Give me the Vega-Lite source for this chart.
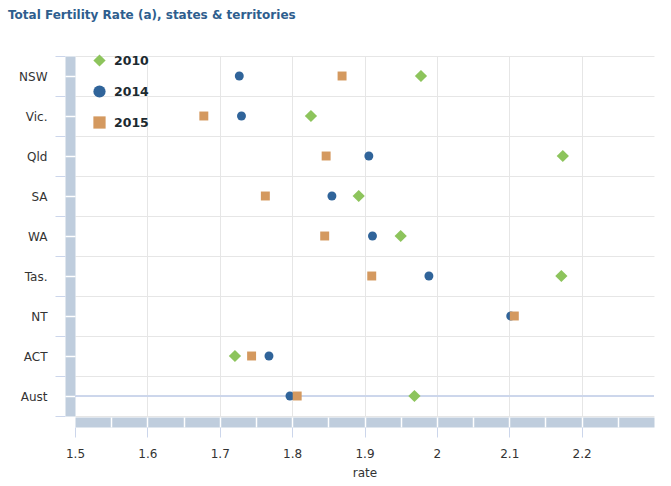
{
  "$schema": "https://vega.github.io/schema/vega-lite/v6.json",
  "width": 579,
  "height": 360,
  "autosize": {"type": "none"},
  "padding": {"left": 75, "top": 56, "right": 17, "bottom": 70},
  "title": {"text": "Total Fertility Rate (a), states & territories", "anchor": "start", "frame": "group", "dx": -67, "offset": 28, "font": "DejaVu Sans", "fontSize": 12, "fontWeight": "bold", "color": "#2e5e8e"},
  "config": {"view": {"stroke": null}, "font": "DejaVu Sans"},
  "data": {"values": [
    {"state": "NSW", "year": "2010", "rate": 1.978},
    {"state": "Vic.", "year": "2010", "rate": 1.826},
    {"state": "Qld", "year": "2010", "rate": 2.174},
    {"state": "SA", "year": "2010", "rate": 1.892},
    {"state": "WA", "year": "2010", "rate": 1.950},
    {"state": "Tas.", "year": "2010", "rate": 2.172},
    {"state": "ACT", "year": "2010", "rate": 1.721},
    {"state": "Aust", "year": "2010", "rate": 1.969},
    {"state": "NSW", "year": "2014", "rate": 1.727},
    {"state": "Vic.", "year": "2014", "rate": 1.730},
    {"state": "Qld", "year": "2014", "rate": 1.906},
    {"state": "SA", "year": "2014", "rate": 1.855},
    {"state": "WA", "year": "2014", "rate": 1.911},
    {"state": "Tas.", "year": "2014", "rate": 1.989},
    {"state": "NT", "year": "2014", "rate": 2.102},
    {"state": "ACT", "year": "2014", "rate": 1.768},
    {"state": "Aust", "year": "2014", "rate": 1.797},
    {"state": "NSW", "year": "2015", "rate": 1.869},
    {"state": "Vic.", "year": "2015", "rate": 1.678},
    {"state": "Qld", "year": "2015", "rate": 1.847},
    {"state": "SA", "year": "2015", "rate": 1.763},
    {"state": "WA", "year": "2015", "rate": 1.845},
    {"state": "Tas.", "year": "2015", "rate": 1.910},
    {"state": "NT", "year": "2015", "rate": 2.107},
    {"state": "ACT", "year": "2015", "rate": 1.744},
    {"state": "Aust", "year": "2015", "rate": 1.807}
  ]},
  "layer": [
    {
      "mark": {"type": "point", "opacity": 0},
      "encoding": {
        "x": {"field": "rate", "type": "quantitative", "scale": {"domain": [1.5, 2.3], "nice": false, "zero": false},
              "axis": {"orient": "bottom", "domain": false, "ticks": false, "labels": false, "title": null, "grid": true, "gridColor": "#e6e6e6", "values": [1.6, 1.7, 1.8, 1.9, 2.0, 2.1, 2.2]}},
        "y": {"field": "state", "type": "nominal", "sort": ["NSW", "Vic.", "Qld", "SA", "WA", "Tas.", "NT", "ACT", "Aust"], "scale": {"type": "band", "paddingInner": 0, "paddingOuter": 0},
              "axis": {"orient": "left", "domain": false, "ticks": false, "labels": false, "title": null, "grid": true, "gridColor": "#e6e6e6", "tickBand": "extent"}}
      }
    },
    {
      "mark": {"type": "point", "opacity": 0},
      "encoding": {
        "x": {"field": "rate", "type": "quantitative", "scale": {"domain": [1.5, 2.3], "nice": false, "zero": false},
              "axis": {"orient": "bottom", "offset": 6, "domain": true, "domainWidth": 10, "domainColor": "#bfcddd", "ticks": false, "labels": false, "title": null, "grid": false}},
        "y": {"field": "state", "type": "nominal", "sort": ["NSW", "Vic.", "Qld", "SA", "WA", "Tas.", "NT", "ACT", "Aust"], "scale": {"type": "band", "paddingInner": 0, "paddingOuter": 0},
              "axis": {"orient": "left", "offset": 5, "domain": true, "domainWidth": 10, "domainColor": "#bfcddd", "ticks": false, "labels": false, "title": null, "grid": false}}
      }
    },
    {
      "mark": {"type": "point", "opacity": 0},
      "encoding": {
        "x": {"field": "rate", "type": "quantitative", "scale": {"domain": [1.5, 2.3], "nice": false, "zero": false},
              "axis": {"orient": "bottom", "offset": 1, "domain": false, "ticks": true, "tickColor": "#ffffff", "tickWidth": 1.5, "tickSize": 10, "labels": false, "title": null, "grid": false, "values": [1.55, 1.6, 1.65, 1.7, 1.75, 1.8, 1.85, 1.9, 1.95, 2.0, 2.05, 2.1, 2.15, 2.2, 2.25]}},
        "y": {"field": "state", "type": "nominal", "sort": ["NSW", "Vic.", "Qld", "SA", "WA", "Tas.", "NT", "ACT", "Aust"], "scale": {"type": "band", "paddingInner": 0, "paddingOuter": 0},
              "axis": {"orient": "left", "offset": 0, "domain": false, "ticks": true, "tickBand": "center", "tickColor": "#ffffff", "tickWidth": 1.5, "tickSize": 10, "labels": false, "title": null, "grid": false}}
      }
    },
    {
      "mark": {"type": "rule", "color": "#ccd6eb", "strokeWidth": 1},
      "encoding": {
        "y": {"datum": "Aust", "type": "nominal", "bandPosition": 0.5, "axis": null}
      }
    },
    {
      "transform": [{"filter": "datum.year == '2010'"}],
      "mark": {"type": "point", "filled": true, "opacity": 1, "size": 150},
      "encoding": {
        "x": {"field": "rate", "type": "quantitative", "scale": {"domain": [1.5, 2.3], "nice": false, "zero": false},
              "axis": {"orient": "bottom", "offset": 11, "domain": false, "ticks": true, "tickColor": "#ccd6eb", "tickSize": 10, "grid": false, "values": [1.5, 1.6, 1.7, 1.8, 1.9, 2.0, 2.1, 2.2], "format": "~g", "labelFlush": false, "labelFont": "DejaVu Sans", "labelFontSize": 12, "labelColor": "#333333", "labelPadding": 11, "title": "rate", "titleFont": "DejaVu Sans", "titleFontSize": 12, "titleFontWeight": "normal", "titleColor": "#333333", "titlePadding": 8}},
        "y": {"field": "state", "type": "nominal", "sort": ["NSW", "Vic.", "Qld", "SA", "WA", "Tas.", "NT", "ACT", "Aust"], "scale": {"type": "band", "paddingInner": 0, "paddingOuter": 0},
              "axis": {"orient": "left", "offset": 10, "domain": false, "ticks": true, "tickBand": "extent", "tickColor": "#ccd6eb", "tickSize": 10, "grid": false, "labelFont": "DejaVu Sans", "labelFontSize": 12, "labelColor": "#333333", "labelPadding": 8, "title": null}},
        "color": {"field": "year", "type": "nominal", "scale": {"domain": ["2010", "2014", "2015"], "range": ["#8dc45c", "#30649a", "#d4995f"]},
                  "legend": {"orient": "none", "legendX": 18, "legendY": -2, "title": null, "padding": 0, "labelFont": "DejaVu Sans", "labelFontWeight": "bold", "labelFontSize": 12.5, "labelColor": "#1c2a30", "symbolSize": 150, "rowPadding": 18, "labelOffset": 8, "symbolStrokeWidth": 0}},
        "shape": {"field": "year", "type": "nominal", "scale": {"domain": ["2010", "2014", "2015"], "range": ["diamond", "circle", "square"]},
                  "legend": {"orient": "none", "legendX": 18, "legendY": -2, "title": null, "padding": 0, "labelFont": "DejaVu Sans", "labelFontWeight": "bold", "labelFontSize": 12.5, "labelColor": "#1c2a30", "symbolSize": 150, "rowPadding": 18, "labelOffset": 8, "symbolStrokeWidth": 0}}
      }
    },
    {
      "transform": [{"filter": "datum.year == '2014'"}],
      "mark": {"type": "point", "filled": true, "opacity": 1, "size": 80},
      "encoding": {
        "x": {"field": "rate", "type": "quantitative", "scale": {"domain": [1.5, 2.3], "nice": false, "zero": false}, "axis": null},
        "y": {"field": "state", "type": "nominal", "sort": ["NSW", "Vic.", "Qld", "SA", "WA", "Tas.", "NT", "ACT", "Aust"], "scale": {"type": "band", "paddingInner": 0, "paddingOuter": 0}, "axis": null},
        "color": {"field": "year", "type": "nominal", "scale": {"domain": ["2010", "2014", "2015"], "range": ["#8dc45c", "#30649a", "#d4995f"]}},
        "shape": {"field": "year", "type": "nominal", "scale": {"domain": ["2010", "2014", "2015"], "range": ["diamond", "circle", "square"]}}
      }
    },
    {
      "transform": [{"filter": "datum.year == '2015'"}],
      "mark": {"type": "point", "filled": true, "opacity": 1, "size": 80},
      "encoding": {
        "x": {"field": "rate", "type": "quantitative", "scale": {"domain": [1.5, 2.3], "nice": false, "zero": false}, "axis": null},
        "y": {"field": "state", "type": "nominal", "sort": ["NSW", "Vic.", "Qld", "SA", "WA", "Tas.", "NT", "ACT", "Aust"], "scale": {"type": "band", "paddingInner": 0, "paddingOuter": 0}, "axis": null},
        "color": {"field": "year", "type": "nominal", "scale": {"domain": ["2010", "2014", "2015"], "range": ["#8dc45c", "#30649a", "#d4995f"]}},
        "shape": {"field": "year", "type": "nominal", "scale": {"domain": ["2010", "2014", "2015"], "range": ["diamond", "circle", "square"]}}
      }
    }
  ],
  "resolve": {"axis": {"x": "independent", "y": "independent"}}
}
